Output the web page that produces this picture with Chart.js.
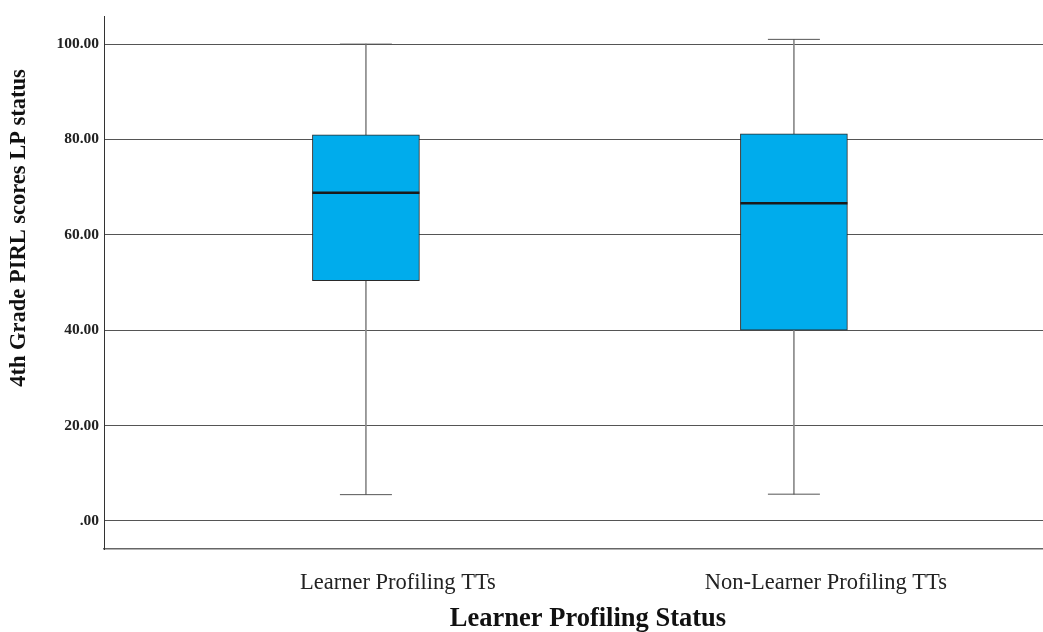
<!DOCTYPE html>
<html>
<head>
<meta charset="utf-8">
<script src="https://cdn.jsdelivr.net/npm/chart.js@4.4.1/dist/chart.umd.min.js"></script>
<style>
    html, body { margin: 0; padding: 0; background: #fff; }
    #wrap { width: 1043px; height: 632px; position: relative; }
</style>
</head>
<body>
<div id="wrap"><canvas id="boxChart"></canvas></div>
<script>
// ── Data ──
const categories = ['Learner Profiling TTs', 'Non-Learner Profiling TTs'];
const catPos     = [1, 2];
const whiskerMin = [5.5, 5.6];
const q1         = [50.4, 40.0];
const median     = [68.8, 66.6];
const q3         = [81.0, 81.2];
const whiskerMax = [100.0, 101.0];
const yTicks     = [0, 20, 40, 60, 80, 100];

const xTitle = 'Learner Profiling Status';
const yTitle = '4th Grade PIRL scores LP status';

const SERIF = '"Liberation Serif", "Times New Roman", serif';

const pts = vals => catPos.map((x, i) => ({ x, y: vals[i] }));
const range = (lo, hi) => catPos.map((x, i) => ({ x, y: [lo[i], hi[i]] }));

// ── Titles drawn by hand (SPSS puts them off-centre) ──
const titlesPlugin = {
    id: 'titles',
    afterDraw(chart) {
        const ctx = chart.ctx;
        ctx.save();
        ctx.fillStyle = '#111';
        ctx.textAlign = 'center';
        ctx.textBaseline = 'middle';
        ctx.font = `bold 26.5px ${SERIF}`;
        ctx.fillText(xTitle, 588, 619);
        ctx.translate(19, 228);
        ctx.rotate(-Math.PI / 2);
        ctx.font = `bold 22.5px ${SERIF}`;
        ctx.fillText(yTitle, 0, 0);
        ctx.restore();
    }
};

new Chart(document.getElementById('boxChart'), {
    type: 'bar',
    data: {
        datasets: [
            {
                type: 'line', label: 'median', data: pts(median), order: 1,
                showLine: false, pointStyle: 'line', pointRadius: 53.5, pointHoverRadius: 53.5,
                borderColor: '#1a1a1a', borderWidth: 2.5
            },
            {
                type: 'line', label: 'max', data: pts(whiskerMax), order: 1,
                showLine: false, pointStyle: 'line', pointRadius: 26, pointHoverRadius: 26,
                borderColor: '#555', borderWidth: 1
            },
            {
                type: 'line', label: 'min', data: pts(whiskerMin), order: 1,
                showLine: false, pointStyle: 'line', pointRadius: 26, pointHoverRadius: 26,
                borderColor: '#555', borderWidth: 1
            },
            {
                label: 'box', data: range(q1, q3), order: 2, grouped: false,
                barThickness: 107, backgroundColor: '#00acec',
                borderColor: '#2a2a2a', borderWidth: 1, borderSkipped: false
            },
            {
                label: 'whisker', data: range(whiskerMin, whiskerMax), order: 3, grouped: false,
                barThickness: 1, backgroundColor: '#8a8a8a', borderWidth: 0
            }
        ]
    },
    options: {
        responsive: true,
        maintainAspectRatio: false,
        animation: false,
        events: [],
        layout: { autoPadding: false, padding: { top: 16, right: 0, left: 0, bottom: 0 } },
        plugins: { legend: { display: false }, tooltip: { enabled: false } },
        scales: {
            x: {
                type: 'linear',
                offset: false,
                min: 0.388,
                max: 2.582,
                afterBuildTicks: s => { s.ticks = catPos.map(v => ({ value: v })); },
                afterFit: s => { s.height = 83; },
                grid: { display: false },
                border: { display: true, color: '#666', width: 1.5 },
                ticks: {
                    callback: v => categories[catPos.indexOf(v)] ?? '',
                    font: { family: SERIF, size: 22.5 },
                    color: '#222',
                    padding: 13,
                    labelOffset: 32,
                    maxRotation: 0
                }
            },
            y: {
                min: -5.9,
                max: 105.9,
                afterBuildTicks: s => { s.ticks = yTicks.map(v => ({ value: v })); },
                afterFit: s => { s.width = 104; },
                grid: { color: '#555', lineWidth: 1, drawTicks: false },
                border: { display: true, color: '#333', width: 1 },
                ticks: {
                    callback: v => v === 0 ? '.00' : v.toFixed(2),
                    font: { family: SERIF, size: 15.5, weight: 'bold' },
                    color: '#222',
                    padding: 5
                }
            }
        }
    },
    plugins: [titlesPlugin]
});
</script>
</body>
</html>
